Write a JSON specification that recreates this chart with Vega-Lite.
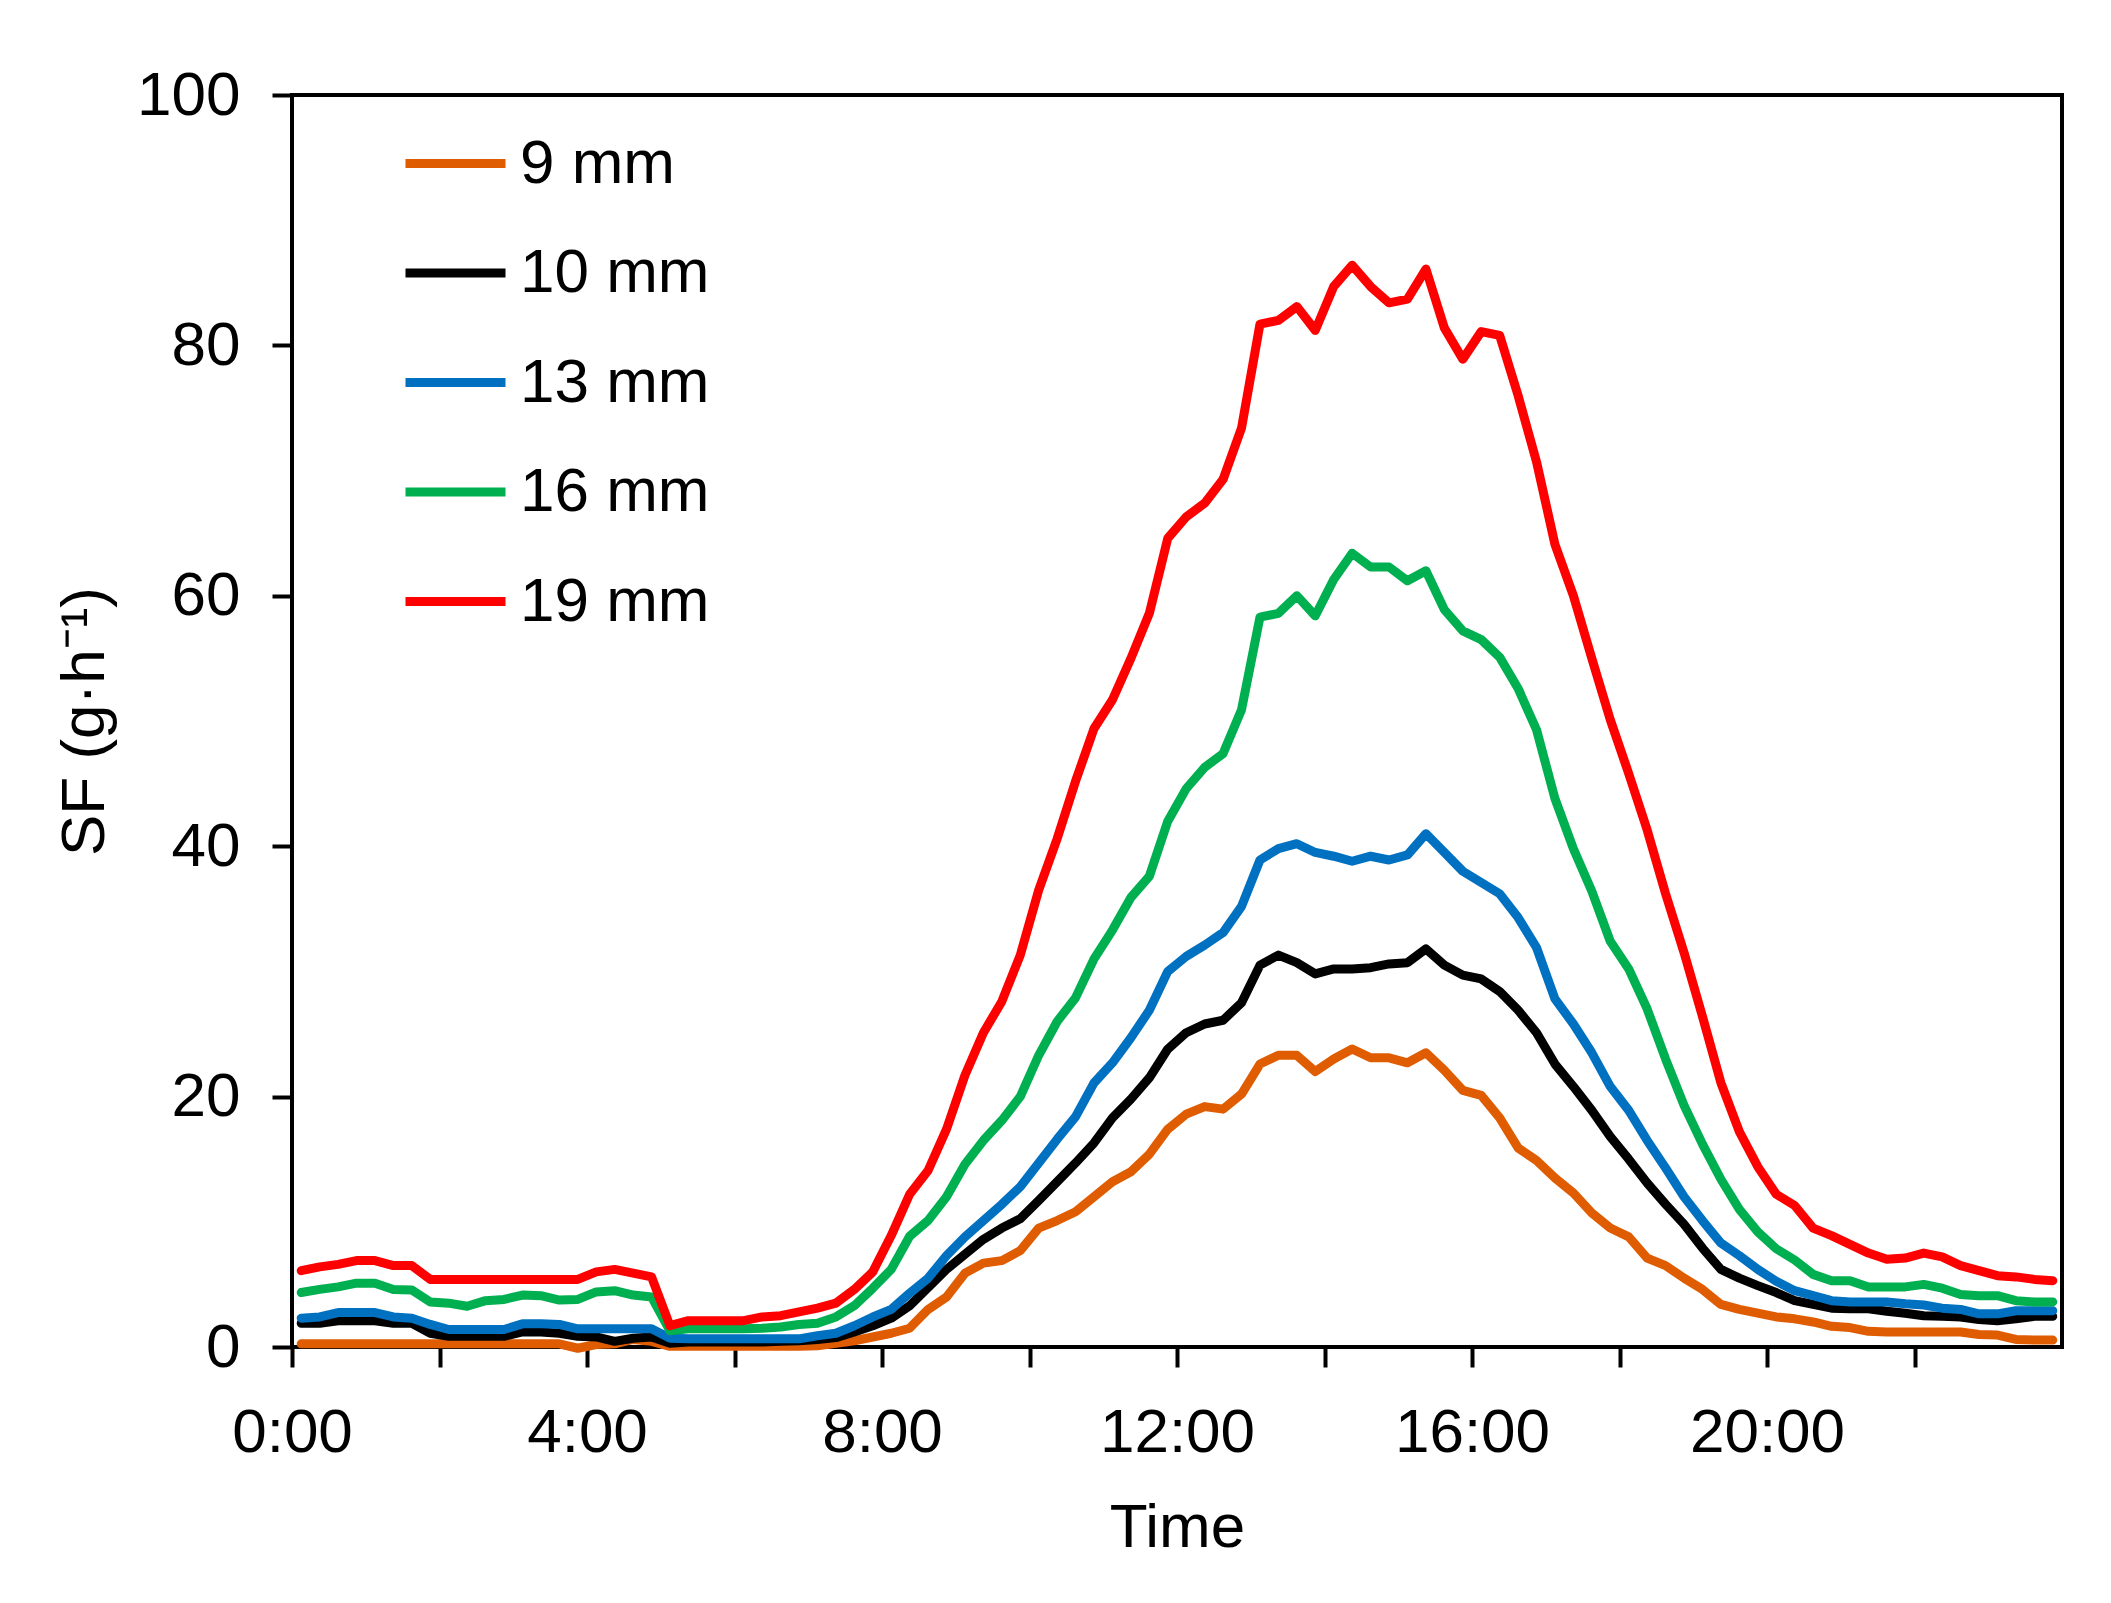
{
  "$schema": "https://vega.github.io/schema/vega-lite/v6.json",
  "width": 1770,
  "height": 1252,
  "autosize": {"type": "none"},
  "padding": {"left": 292, "top": 95, "right": 49, "bottom": 256},
  "background": "white",
  "config": {
    "font": "Liberation Sans",
    "view": {"stroke": "#000000", "strokeWidth": 4},
    "axis": {
      "domain": false,
      "grid": false,
      "ticks": true,
      "tickColor": "#000000",
      "tickWidth": 4,
      "tickSize": 20,
      "labelFont": "Liberation Sans",
      "labelFontSize": 62,
      "labelColor": "#000000",
      "titleFont": "Liberation Sans",
      "titleFontSize": 62,
      "titleFontWeight": "normal",
      "titleColor": "#000000"
    }
  },
  "data": {
    "values": [
      {"t": 0.125, "9 mm": 0.25, "10 mm": 1.9, "13 mm": 2.3, "16 mm": 4.35, "19 mm": 6.1},
      {"t": 0.375, "9 mm": 0.25, "10 mm": 1.9, "13 mm": 2.4, "16 mm": 4.6, "19 mm": 6.4},
      {"t": 0.625, "9 mm": 0.25, "10 mm": 2.1, "13 mm": 2.75, "16 mm": 4.8, "19 mm": 6.6},
      {"t": 0.875, "9 mm": 0.25, "10 mm": 2.1, "13 mm": 2.75, "16 mm": 5.1, "19 mm": 6.9},
      {"t": 1.125, "9 mm": 0.25, "10 mm": 2.1, "13 mm": 2.75, "16 mm": 5.1, "19 mm": 6.9},
      {"t": 1.375, "9 mm": 0.25, "10 mm": 1.9, "13 mm": 2.4, "16 mm": 4.6, "19 mm": 6.5},
      {"t": 1.625, "9 mm": 0.25, "10 mm": 1.9, "13 mm": 2.3, "16 mm": 4.55, "19 mm": 6.5},
      {"t": 1.875, "9 mm": 0.25, "10 mm": 1.1, "13 mm": 1.8, "16 mm": 3.6, "19 mm": 5.4},
      {"t": 2.125, "9 mm": 0.25, "10 mm": 0.85, "13 mm": 1.4, "16 mm": 3.5, "19 mm": 5.4},
      {"t": 2.375, "9 mm": 0.25, "10 mm": 0.85, "13 mm": 1.4, "16 mm": 3.25, "19 mm": 5.4},
      {"t": 2.625, "9 mm": 0.25, "10 mm": 0.85, "13 mm": 1.4, "16 mm": 3.7, "19 mm": 5.4},
      {"t": 2.875, "9 mm": 0.25, "10 mm": 0.85, "13 mm": 1.4, "16 mm": 3.8, "19 mm": 5.4},
      {"t": 3.125, "9 mm": 0.25, "10 mm": 1.2, "13 mm": 1.85, "16 mm": 4.15, "19 mm": 5.4},
      {"t": 3.375, "9 mm": 0.25, "10 mm": 1.2, "13 mm": 1.85, "16 mm": 4.1, "19 mm": 5.4},
      {"t": 3.625, "9 mm": 0.25, "10 mm": 1.1, "13 mm": 1.8, "16 mm": 3.75, "19 mm": 5.4},
      {"t": 3.875, "9 mm": -0.1, "10 mm": 0.85, "13 mm": 1.45, "16 mm": 3.8, "19 mm": 5.4},
      {"t": 4.125, "9 mm": 0.2, "10 mm": 0.8, "13 mm": 1.45, "16 mm": 4.4, "19 mm": 6.0},
      {"t": 4.375, "9 mm": 0.25, "10 mm": 0.45, "13 mm": 1.45, "16 mm": 4.5, "19 mm": 6.2},
      {"t": 4.625, "9 mm": 0.6, "10 mm": 0.7, "13 mm": 1.45, "16 mm": 4.15, "19 mm": 5.9},
      {"t": 4.875, "9 mm": 0.45, "10 mm": 0.8, "13 mm": 1.45, "16 mm": 4.0, "19 mm": 5.6},
      {"t": 5.125, "9 mm": 0.05, "10 mm": 0.3, "13 mm": 0.7, "16 mm": 1.3, "19 mm": 1.7},
      {"t": 5.375, "9 mm": 0.05, "10 mm": 0.4, "13 mm": 0.65, "16 mm": 1.45, "19 mm": 2.1},
      {"t": 5.625, "9 mm": 0.05, "10 mm": 0.4, "13 mm": 0.65, "16 mm": 1.45, "19 mm": 2.1},
      {"t": 5.875, "9 mm": 0.05, "10 mm": 0.4, "13 mm": 0.65, "16 mm": 1.45, "19 mm": 2.1},
      {"t": 6.125, "9 mm": 0.05, "10 mm": 0.4, "13 mm": 0.65, "16 mm": 1.45, "19 mm": 2.1},
      {"t": 6.375, "9 mm": 0.05, "10 mm": 0.4, "13 mm": 0.65, "16 mm": 1.5, "19 mm": 2.4},
      {"t": 6.625, "9 mm": 0.05, "10 mm": 0.45, "13 mm": 0.65, "16 mm": 1.6, "19 mm": 2.5},
      {"t": 6.875, "9 mm": 0.05, "10 mm": 0.5, "13 mm": 0.65, "16 mm": 1.8, "19 mm": 2.8},
      {"t": 7.125, "9 mm": 0.1, "10 mm": 0.6, "13 mm": 0.9, "16 mm": 1.9, "19 mm": 3.1},
      {"t": 7.375, "9 mm": 0.3, "10 mm": 0.75, "13 mm": 1.1, "16 mm": 2.4, "19 mm": 3.5},
      {"t": 7.625, "9 mm": 0.5, "10 mm": 1.2, "13 mm": 1.7, "16 mm": 3.3, "19 mm": 4.6},
      {"t": 7.875, "9 mm": 0.8, "10 mm": 1.7, "13 mm": 2.4, "16 mm": 4.7, "19 mm": 6.0},
      {"t": 8.125, "9 mm": 1.1, "10 mm": 2.3, "13 mm": 3.0, "16 mm": 6.2, "19 mm": 8.9},
      {"t": 8.375, "9 mm": 1.5, "10 mm": 3.3, "13 mm": 4.3, "16 mm": 8.85, "19 mm": 12.2},
      {"t": 8.625, "9 mm": 3.0, "10 mm": 4.75, "13 mm": 5.5, "16 mm": 10.1, "19 mm": 14.1},
      {"t": 8.875, "9 mm": 4.0, "10 mm": 6.2, "13 mm": 7.3, "16 mm": 12.0, "19 mm": 17.4},
      {"t": 9.125, "9 mm": 5.9, "10 mm": 7.4, "13 mm": 8.8, "16 mm": 14.6, "19 mm": 21.7},
      {"t": 9.375, "9 mm": 6.7, "10 mm": 8.6, "13 mm": 10.1, "16 mm": 16.5, "19 mm": 25.1},
      {"t": 9.625, "9 mm": 6.9, "10 mm": 9.5, "13 mm": 11.4, "16 mm": 18.1, "19 mm": 27.6},
      {"t": 9.875, "9 mm": 7.7, "10 mm": 10.25, "13 mm": 12.8, "16 mm": 20.0, "19 mm": 31.3},
      {"t": 10.125, "9 mm": 9.5, "10 mm": 11.7, "13 mm": 14.7, "16 mm": 23.3, "19 mm": 36.5},
      {"t": 10.375, "9 mm": 10.1, "10 mm": 13.2, "13 mm": 16.6, "16 mm": 26.0, "19 mm": 40.6},
      {"t": 10.625, "9 mm": 10.8, "10 mm": 14.7, "13 mm": 18.4, "16 mm": 27.9, "19 mm": 45.2},
      {"t": 10.875, "9 mm": 12.0, "10 mm": 16.3, "13 mm": 21.1, "16 mm": 31.0, "19 mm": 49.4},
      {"t": 11.125, "9 mm": 13.2, "10 mm": 18.3, "13 mm": 22.7, "16 mm": 33.3, "19 mm": 51.7},
      {"t": 11.375, "9 mm": 14.0, "10 mm": 19.8, "13 mm": 24.7, "16 mm": 35.9, "19 mm": 55.0},
      {"t": 11.625, "9 mm": 15.4, "10 mm": 21.5, "13 mm": 26.9, "16 mm": 37.6, "19 mm": 58.6},
      {"t": 11.875, "9 mm": 17.4, "10 mm": 23.8, "13 mm": 30.0, "16 mm": 42.0, "19 mm": 64.6},
      {"t": 12.125, "9 mm": 18.6, "10 mm": 25.1, "13 mm": 31.2, "16 mm": 44.6, "19 mm": 66.3},
      {"t": 12.375, "9 mm": 19.2, "10 mm": 25.8, "13 mm": 32.1, "16 mm": 46.3, "19 mm": 67.4},
      {"t": 12.625, "9 mm": 19.0, "10 mm": 26.1, "13 mm": 33.1, "16 mm": 47.4, "19 mm": 69.3},
      {"t": 12.875, "9 mm": 20.2, "10 mm": 27.5, "13 mm": 35.2, "16 mm": 50.9, "19 mm": 73.4},
      {"t": 13.125, "9 mm": 22.6, "10 mm": 30.5, "13 mm": 38.9, "16 mm": 58.3, "19 mm": 81.7},
      {"t": 13.375, "9 mm": 23.3, "10 mm": 31.3, "13 mm": 39.8, "16 mm": 58.6, "19 mm": 82.0},
      {"t": 13.625, "9 mm": 23.3, "10 mm": 30.7, "13 mm": 40.2, "16 mm": 60.0, "19 mm": 83.1},
      {"t": 13.875, "9 mm": 22.0, "10 mm": 29.8, "13 mm": 39.5, "16 mm": 58.4, "19 mm": 81.2},
      {"t": 14.125, "9 mm": 23.0, "10 mm": 30.2, "13 mm": 39.2, "16 mm": 61.3, "19 mm": 84.7},
      {"t": 14.375, "9 mm": 23.8, "10 mm": 30.2, "13 mm": 38.8, "16 mm": 63.4, "19 mm": 86.4},
      {"t": 14.625, "9 mm": 23.1, "10 mm": 30.3, "13 mm": 39.2, "16 mm": 62.3, "19 mm": 84.7},
      {"t": 14.875, "9 mm": 23.1, "10 mm": 30.6, "13 mm": 38.9, "16 mm": 62.3, "19 mm": 83.4},
      {"t": 15.125, "9 mm": 22.7, "10 mm": 30.7, "13 mm": 39.3, "16 mm": 61.2, "19 mm": 83.7},
      {"t": 15.375, "9 mm": 23.5, "10 mm": 31.8, "13 mm": 41.0, "16 mm": 62.0, "19 mm": 86.1},
      {"t": 15.625, "9 mm": 22.1, "10 mm": 30.5, "13 mm": 39.5, "16 mm": 58.9, "19 mm": 81.4},
      {"t": 15.875, "9 mm": 20.5, "10 mm": 29.7, "13 mm": 38.0, "16 mm": 57.2, "19 mm": 78.9},
      {"t": 16.125, "9 mm": 20.1, "10 mm": 29.4, "13 mm": 37.1, "16 mm": 56.5, "19 mm": 81.1},
      {"t": 16.375, "9 mm": 18.3, "10 mm": 28.4, "13 mm": 36.2, "16 mm": 55.1, "19 mm": 80.8},
      {"t": 16.625, "9 mm": 15.9, "10 mm": 26.9, "13 mm": 34.3, "16 mm": 52.6, "19 mm": 76.0},
      {"t": 16.875, "9 mm": 14.9, "10 mm": 25.1, "13 mm": 31.9, "16 mm": 49.3, "19 mm": 70.7},
      {"t": 17.125, "9 mm": 13.5, "10 mm": 22.6, "13 mm": 27.8, "16 mm": 43.8, "19 mm": 64.1},
      {"t": 17.375, "9 mm": 12.3, "10 mm": 20.8, "13 mm": 25.8, "16 mm": 39.8, "19 mm": 60.0},
      {"t": 17.625, "9 mm": 10.7, "10 mm": 18.9, "13 mm": 23.5, "16 mm": 36.4, "19 mm": 55.0},
      {"t": 17.875, "9 mm": 9.5, "10 mm": 16.8, "13 mm": 20.8, "16 mm": 32.4, "19 mm": 50.1},
      {"t": 18.125, "9 mm": 8.8, "10 mm": 15.0, "13 mm": 18.9, "16 mm": 30.2, "19 mm": 45.8},
      {"t": 18.375, "9 mm": 7.1, "10 mm": 13.1, "13 mm": 16.5, "16 mm": 27.0, "19 mm": 41.3},
      {"t": 18.625, "9 mm": 6.5, "10 mm": 11.4, "13 mm": 14.3, "16 mm": 23.0, "19 mm": 36.2},
      {"t": 18.875, "9 mm": 5.5, "10 mm": 9.8, "13 mm": 12.0, "16 mm": 19.3, "19 mm": 31.5},
      {"t": 19.125, "9 mm": 4.6, "10 mm": 7.9, "13 mm": 10.1, "16 mm": 16.2, "19 mm": 26.4},
      {"t": 19.375, "9 mm": 3.4, "10 mm": 6.2, "13 mm": 8.3, "16 mm": 13.4, "19 mm": 21.1},
      {"t": 19.625, "9 mm": 3.0, "10 mm": 5.5, "13 mm": 7.3, "16 mm": 11.0, "19 mm": 17.2},
      {"t": 19.875, "9 mm": 2.7, "10 mm": 4.9, "13 mm": 6.2, "16 mm": 9.2, "19 mm": 14.4},
      {"t": 20.125, "9 mm": 2.4, "10 mm": 4.35, "13 mm": 5.25, "16 mm": 7.85, "19 mm": 12.2},
      {"t": 20.375, "9 mm": 2.25, "10 mm": 3.7, "13 mm": 4.5, "16 mm": 6.95, "19 mm": 11.3},
      {"t": 20.625, "9 mm": 2.0, "10 mm": 3.4, "13 mm": 4.1, "16 mm": 5.8, "19 mm": 9.5},
      {"t": 20.875, "9 mm": 1.65, "10 mm": 3.1, "13 mm": 3.7, "16 mm": 5.3, "19 mm": 8.9},
      {"t": 21.125, "9 mm": 1.55, "10 mm": 3.05, "13 mm": 3.6, "16 mm": 5.3, "19 mm": 8.2},
      {"t": 21.375, "9 mm": 1.25, "10 mm": 3.05, "13 mm": 3.6, "16 mm": 4.8, "19 mm": 7.5},
      {"t": 21.625, "9 mm": 1.2, "10 mm": 2.85, "13 mm": 3.6, "16 mm": 4.8, "19 mm": 7.0},
      {"t": 21.875, "9 mm": 1.2, "10 mm": 2.7, "13 mm": 3.45, "16 mm": 4.8, "19 mm": 7.1},
      {"t": 22.125, "9 mm": 1.2, "10 mm": 2.5, "13 mm": 3.35, "16 mm": 5.0, "19 mm": 7.5},
      {"t": 22.375, "9 mm": 1.2, "10 mm": 2.45, "13 mm": 3.1, "16 mm": 4.7, "19 mm": 7.2},
      {"t": 22.625, "9 mm": 1.2, "10 mm": 2.4, "13 mm": 3.0, "16 mm": 4.2, "19 mm": 6.5},
      {"t": 22.875, "9 mm": 1.0, "10 mm": 2.2, "13 mm": 2.65, "16 mm": 4.1, "19 mm": 6.1},
      {"t": 23.125, "9 mm": 0.95, "10 mm": 2.1, "13 mm": 2.65, "16 mm": 4.1, "19 mm": 5.7},
      {"t": 23.375, "9 mm": 0.6, "10 mm": 2.25, "13 mm": 2.9, "16 mm": 3.7, "19 mm": 5.6},
      {"t": 23.625, "9 mm": 0.55, "10 mm": 2.45, "13 mm": 2.9, "16 mm": 3.6, "19 mm": 5.4},
      {"t": 23.875, "9 mm": 0.55, "10 mm": 2.45, "13 mm": 2.9, "16 mm": 3.6, "19 mm": 5.3}
    ]
  },
  "transform": [
    {"fold": ["9 mm", "10 mm", "13 mm", "16 mm", "19 mm"], "as": ["size", "SF"]}
  ],
  "mark": {"type": "line", "strokeWidth": 9, "strokeJoin": "round", "strokeCap": "round"},
  "encoding": {
    "x": {
      "field": "t",
      "type": "quantitative",
      "scale": {"domain": [0, 24], "nice": false, "zero": false},
      "axis": {
        "title": "Time",
        "values": [0, 2, 4, 6, 8, 10, 12, 14, 16, 18, 20, 22],
        "labelExpr": "datum.value % 4 === 0 ? datum.value + ':00' : ''",
        "labelPadding": 35,
        "labelOverlap": false,
        "labelFlush": false,
        "titlePadding": 34
      }
    },
    "y": {
      "field": "SF",
      "type": "quantitative",
      "scale": {"domain": [0, 100], "nice": false},
      "axis": {
        "title": "SF (g·h⁻¹)",
        "values": [0, 20, 40, 60, 80, 100],
        "labelPadding": 32,
        "titlePadding": 20
      }
    },
    "color": {
      "field": "size",
      "type": "nominal",
      "sort": ["9 mm", "10 mm", "13 mm", "16 mm", "19 mm"],
      "scale": {
        "domain": ["9 mm", "10 mm", "13 mm", "16 mm", "19 mm"],
        "range": ["#E05C00", "#000000", "#0070C0", "#00B050", "#FF0000"]
      },
      "legend": {
        "title": null,
        "orient": "none",
        "legendX": 109,
        "legendY": 14,
        "padding": 0,
        "symbolType": "stroke",
        "symbolSize": 10000,
        "symbolStrokeWidth": 9,
        "labelFont": "Liberation Sans",
        "labelFontSize": 62,
        "labelColor": "#000000",
        "labelLimit": 0,
        "labelOffset": 10,
        "rowPadding": 23.5
      }
    }
  }
}
